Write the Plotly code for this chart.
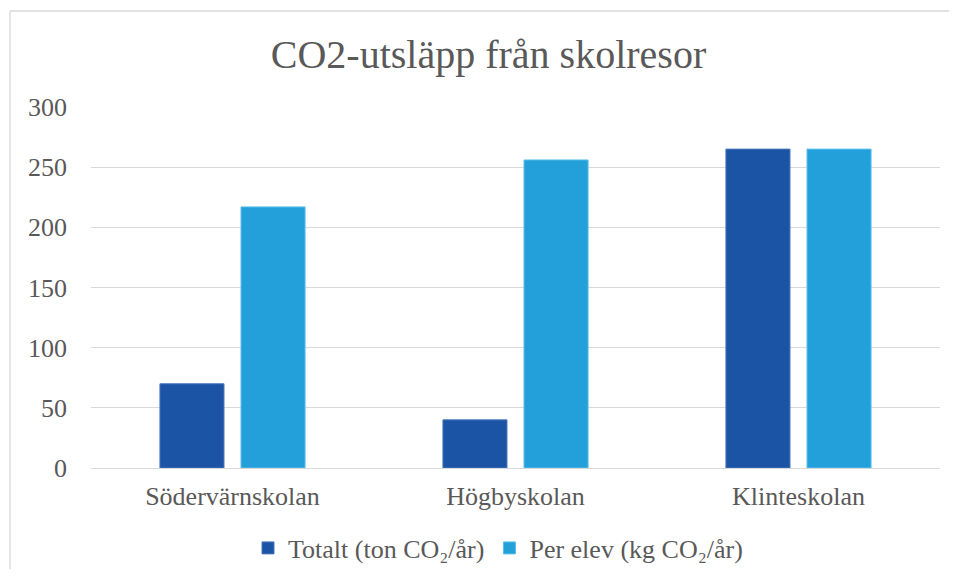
"""CO2-utsläpp från skolresor - grouped bar chart."""
import plotly.graph_objects as go

schools = ["Södervärnskolan", "Högbyskolan", "Klinteskolan"]
totalt = [70, 40, 265]
per_elev = [217, 256, 265]
series_names = ["Totalt (ton CO₂/år)", "Per elev (kg CO₂/år)"]
y_ticks = [0, 50, 100, 150, 200, 250, 300]

FONT = "Georgia, 'Liberation Serif', serif"
TEXT = "#595959"
GRID = "#D9D9D9"

# page body adds an 8px margin, so the figure is a bit smaller than the window
W, H = 941, 561

fig = go.Figure()
fig.add_trace(go.Bar(x=schools, y=totalt, name=series_names[0],
                     marker=dict(color="#1B53A5", line=dict(color="#4A78BC", width=1))))
fig.add_trace(go.Bar(x=schools, y=per_elev, name=series_names[1],
                     marker=dict(color="#23A0DA", line=dict(color="#5CC0EA", width=1))))

# chart frame: only its left and top edges fall inside the picture
frame_left = (2 - 83) / 849
frame_top = (460 - 3) / 361

fig.update_layout(
    width=W, height=H,
    margin=dict(l=83, r=W - 932, t=99, b=H - 460),
    paper_bgcolor="white", plot_bgcolor="white",
    font=dict(family=FONT, color=TEXT),
    title=dict(text="CO2-utsläpp från skolresor", font=dict(size=40, color=TEXT),
               x=480.5 / W, xanchor="center", xref="container",
               y=1 - 46 / H, yanchor="middle", yref="container"),
    barmode="group", bargap=0.427, bargroupgap=0.21,
    showlegend=True,
    legend=dict(orientation="h", xref="container", x=490 / W, xanchor="center",
                yref="container", y=1 - 540 / H, yanchor="middle",
                font=dict(size=26, color=TEXT), itemwidth=30),
    xaxis=dict(showgrid=False, showline=False, ticks="", tickfont=dict(size=26, color=TEXT),
               ticklabelstandoff=10),
    yaxis=dict(range=[0, 300], tickvals=y_ticks, showgrid=True, gridcolor=GRID, gridwidth=1.3,
               zeroline=True, zerolinecolor=GRID, zerolinewidth=1.3, showline=False,
               tickfont=dict(size=26, color=TEXT), ticklabelstandoff=23),
    shapes=[
        dict(type="line", xref="paper", yref="paper", x0=frame_left, x1=frame_left,
             y0=-0.5, y1=frame_top, line=dict(color=GRID, width=1.3), layer="below"),
        dict(type="line", xref="paper", yref="paper", x0=frame_left, x1=1.2,
             y0=frame_top, y1=frame_top, line=dict(color=GRID, width=1.3), layer="below"),
    ],
)

fig.write_html("out.html")
